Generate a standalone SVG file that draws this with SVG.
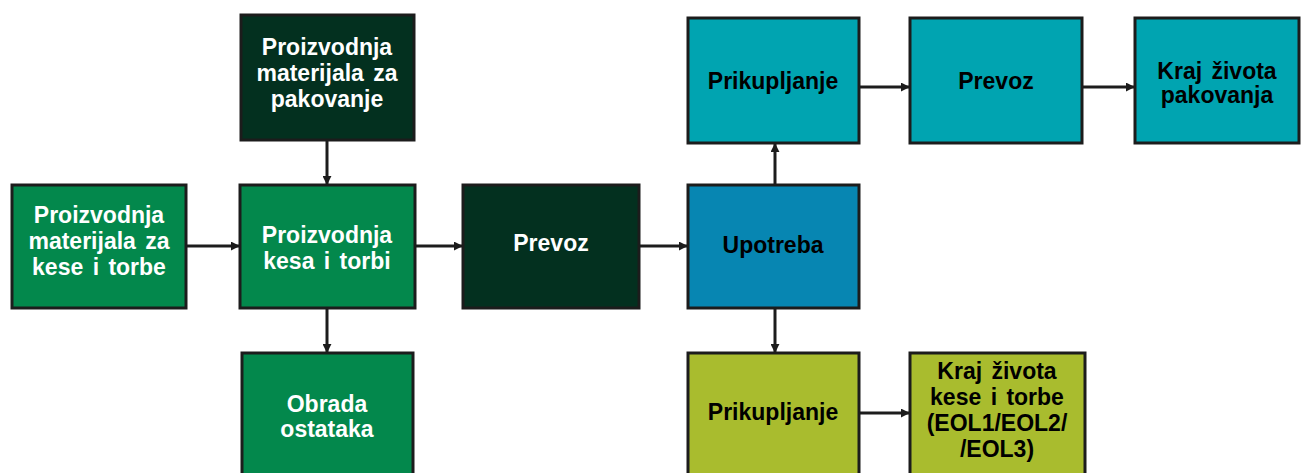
<svg xmlns="http://www.w3.org/2000/svg" width="1301" height="473" viewBox="0 0 1301 473">
<style>
.box{stroke:#1c1c1c;stroke-width:3}
.dg{fill:#03301f}
.g{fill:#03884c}
.b{fill:#0786b2}
.t{fill:#00a4b1}
.y{fill:#a9bc2e}
text{font-family:"Liberation Sans",Arial,sans-serif;font-weight:bold;font-size:23px;text-anchor:middle;word-spacing:3px}
.w{fill:#ffffff}
.k{fill:#000000}
.c{stroke:#1c1c1c;stroke-width:3;fill:none;marker-end:url(#ah)}
</style>
<defs>
<marker id="ah" viewBox="0 0 10 10" refX="9" refY="5" markerWidth="3" markerHeight="3" orient="auto" markerUnits="strokeWidth">
<path d="M0,0 L10,5 L0,10 z" fill="#1c1c1c"/>
</marker>
</defs>
<rect width="1301" height="473" fill="#ffffff"/>
<g id="connectors">
<line class="c" x1="186" y1="246" x2="239" y2="246"/>
<line class="c" x1="327" y1="140" x2="327" y2="184"/>
<line class="c" x1="415" y1="246" x2="462" y2="246"/>
<line class="c" x1="327" y1="308" x2="327" y2="352"/>
<line class="c" x1="639" y1="246" x2="687" y2="246"/>
<line class="c" x1="775" y1="185" x2="775" y2="144"/>
<line class="c" x1="775" y1="308" x2="775" y2="352"/>
<line class="c" x1="859" y1="87" x2="909" y2="87"/>
<line class="c" x1="1082" y1="87" x2="1134" y2="87"/>
<line class="c" x1="859" y1="413" x2="909" y2="413"/>
</g>
<g id="n_mat_kese">
<rect class="box g" x="12" y="185" width="174" height="123"/>
<text class="w"><tspan x="99" y="223">Proizvodnja</tspan><tspan x="99" y="249">materijala za</tspan><tspan x="99" y="275">kese i torbe</tspan></text>
</g>
<g id="n_mat_pak">
<rect class="box dg" x="241" y="15" width="173" height="125"/>
<text class="w"><tspan x="327" y="55">Proizvodnja</tspan><tspan x="327" y="81">materijala za</tspan><tspan x="327" y="107">pakovanje</tspan></text>
</g>
<g id="n_proizv">
<rect class="box g" x="240" y="185" width="175" height="123"/>
<text class="w"><tspan x="327" y="243">Proizvodnja</tspan><tspan x="327" y="269">kesa i torbi</tspan></text>
</g>
<g id="n_obrada">
<rect class="box g" x="242" y="353" width="171" height="125"/>
<text class="w"><tspan x="327" y="412">Obrada</tspan><tspan x="327" y="437">ostataka</tspan></text>
</g>
<g id="n_prevoz1">
<rect class="box dg" x="463" y="185" width="176" height="123"/>
<text class="w" x="551" y="251">Prevoz</text>
</g>
<g id="n_upotreba">
<rect class="box b" x="688" y="185" width="171" height="123"/>
<text class="k" x="773" y="253">Upotreba</text>
</g>
<g id="n_prik_top">
<rect class="box t" x="688" y="18" width="171" height="125"/>
<text class="k" x="773" y="89">Prikupljanje</text>
</g>
<g id="n_prevoz2">
<rect class="box t" x="910" y="18" width="172" height="125"/>
<text class="k" x="996" y="89">Prevoz</text>
</g>
<g id="n_kraj_pak">
<rect class="box t" x="1135" y="18" width="164" height="125"/>
<text class="k"><tspan x="1217" y="79">Kraj života</tspan><tspan x="1217" y="103">pakovanja</tspan></text>
</g>
<g id="n_prik_bot">
<rect class="box y" x="688" y="353" width="171" height="125"/>
<text class="k" x="773" y="420">Prikupljanje</text>
</g>
<g id="n_kraj_kese">
<rect class="box y" x="910" y="353" width="175" height="125"/>
<text class="k"><tspan x="997" y="379">Kraj života</tspan><tspan x="997" y="405">kese i torbe</tspan><tspan x="997" y="431">(EOL1/EOL2/</tspan><tspan x="997" y="457">/EOL3)</tspan></text>
</g>
</svg>
